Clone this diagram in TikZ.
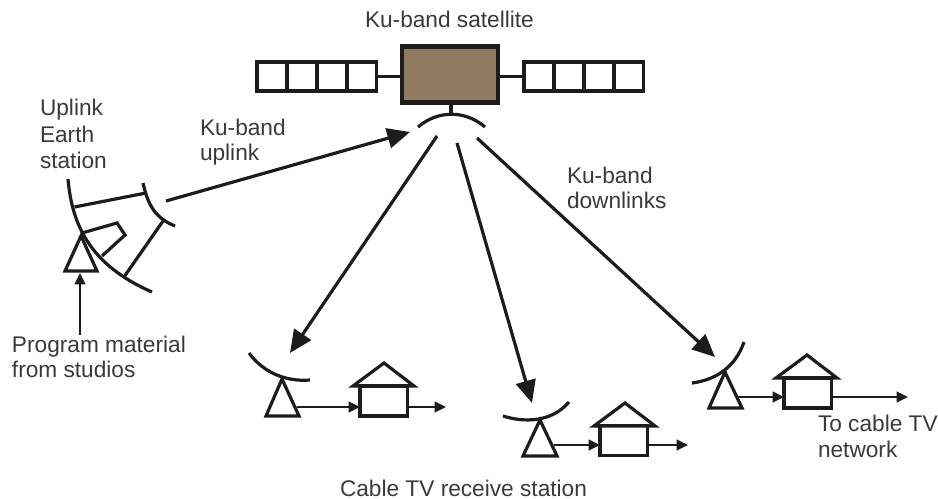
\documentclass[tikz,border=0pt]{standalone}
\usepackage{fontspec}
\setmainfont{Liberation Sans}
\usetikzlibrary{arrows.meta}
\definecolor{satbrown}{HTML}{8F7A60}
\definecolor{inkc}{HTML}{1E1C1A}
\definecolor{labelc}{HTML}{3A3A3A}
\tikzset{
  x=0.75pt,y=-0.75pt,
  line/.style={draw=inkc,line width=2.4pt,line join=miter},
  big arrow/.style={draw=inkc,line width=2.4pt,-{Triangle[length=17pt,width=15pt]}},
  small arrow/.style={draw=inkc,line width=1.5pt,-{Triangle[length=8.5pt,width=8pt]}},
  panel/.style={line,fill=white,minimum width=22.3pt,minimum height=21.7pt,inner sep=0pt,outer sep=0pt,anchor=west},
  housebox/.style={draw=inkc,line width=2.4pt,fill=white,minimum width=35.5pt,minimum height=22.5pt,inner sep=0pt,outer sep=0pt,anchor=south west},
  lbl/.style={text=labelc,font=\fontsize{17pt}{20pt}\selectfont,anchor=base west,inner sep=0pt,outer sep=0pt}
}
\begin{document}
\begin{tikzpicture}
\useasboundingbox (0,0) rectangle (938,499);
% labels
\node[lbl] (tsat) at (365,28) {Ku-band satellite};
\node[lbl] (tup1) at (40,116) {Uplink};
\node[lbl] (tup2) at (40,143) {Earth};
\node[lbl] (tup3) at (40,168) {station};
\node[lbl] (tku1) at (200,136) {Ku-band};
\node[lbl] (tku2) at (200,161) {uplink};
\node[lbl] (tdn1) at (567,183) {Ku-band};
\node[lbl] (tdn2) at (567,208) {downlinks};
\node[lbl] (tpm1) at (12,352) {Program material};
\node[lbl] (tpm2) at (12,377) {from studios};
\node[lbl] (tcab) at (340,496) {Cable TV receive station};
\node[lbl] (tto1) at (818,431) {To cable TV};
\node[lbl] (tto2) at (818,457) {network};
% satellite
\node[draw=inkc,line width=3.6pt,fill=satbrown,minimum width=72pt,minimum height=42pt,inner sep=0pt,outer sep=0pt] (body) at (450,74.5) {};
\foreach \n/\x in {a/257,b/287,c/317,d/347,e/524,f/554,g/584,h/614}
  \node[panel] (p\n) at (\x,76.5) {};
\draw[line] (pd.east) -- (body.west |- pd.east);
\draw[line] (pe.west) -- (body.east |- pe.west);
\coordinate (stemTop) at (451,104);
\coordinate (stemBot) at (451,115);
\coordinate (satL) at (418,127);
\coordinate (satR) at (485,127);
\draw[line] (stemTop) -- (stemBot);
\draw[line] (satL) .. controls (438,110) and (465,110) .. (satR);
% uplink station
\coordinate (upTop) at (68,179);
\coordinate (upRim) at (74.5,207);
\coordinate (upEnd) at (152,292);
\coordinate (subTop) at (143,183);
\coordinate (subA) at (146,193);
\coordinate (subB) at (163,221);
\coordinate (subEnd) at (175,226);
\coordinate (rimB) at (124,277);
\draw[line] (upTop) .. controls (72,225) and (90,265) .. (upEnd);
\draw[line] (subTop) .. controls (147,200) and (152,217) .. (subEnd);
\draw[line] (upRim) -- (subA);
\draw[line] (subB) -- (rimB);
\coordinate (feedA) at (82,233);
\coordinate (feedB) at (117,223);
\coordinate (feedC) at (125,235);
\coordinate (feedD) at (102,256);
\draw[line] (feedA) -- (feedB) -- (feedC) -- (feedD);
\coordinate (apx0) at (81,236);
\coordinate (bl0) at (65,271);
\coordinate (br0) at (97,271);
\draw[line] (apx0) -- (bl0) -- (br0) -- cycle;
\coordinate (studio) at (80,335);
\coordinate (studioTip) at (80,273);
\draw[small arrow] (studio) -- (studioTip);
% big links
\coordinate (ulS) at (166,201);
\coordinate (ulT) at (410,132);
\draw[big arrow] (ulS) -- (ulT);
\coordinate (d1S) at (437,136);
\coordinate (d1T) at (290,353);
\coordinate (d2S) at (457,143);
\coordinate (d2T) at (532,403);
\coordinate (d3S) at (477,138);
\coordinate (d3T) at (715,357);
\draw[big arrow] (d1S) -- (d1T);
\draw[big arrow] (d2S) -- (d2T);
\draw[big arrow] (d3S) -- (d3T);
% station 1
\coordinate (s1a) at (249,353);
\coordinate (s1b) at (310,380);
\draw[line] (s1a) .. controls (263,372) and (285,382) .. (s1b);
\coordinate (apx1) at (282,379);
\coordinate (bl1) at (266,416);
\coordinate (br1) at (299,416);
\draw[line] (apx1) -- (bl1) -- (br1) -- cycle;
\node[housebox] (h1) at (360,416) {};
\coordinate (r1l) at (353,386);
\coordinate (r1t) at (384,363);
\coordinate (r1r) at (414,386);
\draw[line] (r1l) -- (r1t) -- (r1r) -- cycle;
\coordinate (o1) at (446,407);
\coordinate (i1) at (297,407);
\draw[small arrow] (i1) -- (h1.west |- i1);
\draw[small arrow] (h1.east |- o1) -- (o1);
% station 2
\coordinate (s2a) at (503,416);
\coordinate (s2b) at (569,402);
\draw[line] (s2a) .. controls (525,423) and (552,422) .. (s2b);
\coordinate (apx2) at (540,420);
\coordinate (bl2) at (523,456);
\coordinate (br2) at (557,456);
\draw[line] (apx2) -- (bl2) -- (br2) -- cycle;
\node[housebox] (h2) at (600,455.5) {};
\coordinate (r2l) at (594,426);
\coordinate (r2t) at (625,403);
\coordinate (r2r) at (655,426);
\draw[line] (r2l) -- (r2t) -- (r2r) -- cycle;
\coordinate (o2) at (688,445);
\coordinate (i2) at (554,445);
\draw[small arrow] (i2) -- (h2.west |- i2);
\draw[small arrow] (h2.east |- o2) -- (o2);
% station 3
\coordinate (s3a) at (692,383);
\coordinate (s3b) at (744,342);
\draw[line] (s3a) .. controls (715,380) and (735,368) .. (s3b);
\coordinate (apx3) at (725,372);
\coordinate (bl3) at (709,408);
\coordinate (br3) at (742,408);
\draw[line] (apx3) -- (bl3) -- (br3) -- cycle;
\node[housebox] (h3) at (784,408) {};
\coordinate (r3l) at (776,378);
\coordinate (r3t) at (807,355);
\coordinate (r3r) at (837,378);
\draw[line] (r3l) -- (r3t) -- (r3r) -- cycle;
\coordinate (o3) at (908,397);
\coordinate (i3) at (738,397);
\draw[small arrow] (i3) -- (h3.west |- i3);
\draw[small arrow] (h3.east |- o3) -- (o3);
\end{tikzpicture}
\end{document}
